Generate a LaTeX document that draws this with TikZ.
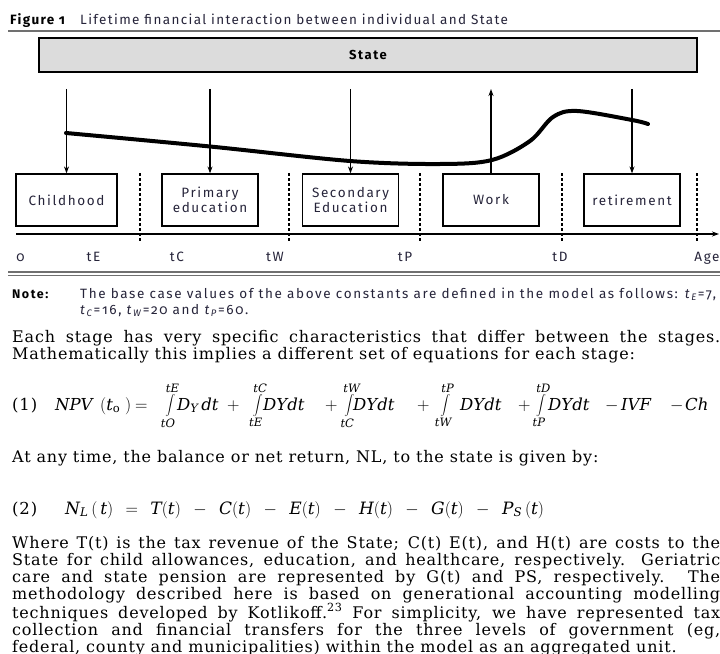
\documentclass[tikz,border=0pt]{standalone}
\usepackage{fontspec}
\setmainfont{DejaVu Serif}[LetterSpace=5]
\newfontfamily\figfont{Fira Sans}[Numbers=OldStyle, LetterSpace=12]
\newfontfamily\capfont{Fira Sans}[Numbers=OldStyle, LetterSpace=10]
\newfontfamily\notefont{Fira Sans}[Numbers=OldStyle, LetterSpace=12]
\usetikzlibrary{arrows.meta}
\definecolor{statefill}{HTML}{DCDCDC}
\definecolor{rulegray}{HTML}{707070}
\definecolor{ink}{HTML}{26243A}

\tikzset{
    stagebox/.style={draw, line width=1.2bp, minimum width=96bp, minimum height=52bp,
        align=center, text=ink, font=\figfont\fontsize{13.5bp}{14.5bp}\selectfont, inner sep=2bp},
    flow/.style={line width=1.2bp, -{Stealth[length=7bp, width=5bp]}},
    border/.style={dash pattern=on 3bp off 2bp, line width=1.2bp},
    agelabel/.style={anchor=base, inner sep=0pt, text=ink, font=\figfont\fontsize{13.5bp}{14bp}\selectfont},
    bodytext/.style={anchor=base west, inner sep=0pt, text width=708bp, align=justify,
        font=\fontsize{16bp}{17bp}\selectfont},
    plain/.style={anchor=base west, inner sep=0pt},
    eqone/.style={plain, font=\fontsize{16.5bp}{17bp}\selectfont},
}

\begin{document}
\begin{tikzpicture}[x=1bp, y=-1bp]
    \useasboundingbox (0,0) rectangle (720,654);

    \node[plain, font=\capfont\bfseries\fontsize{13.5bp}{14bp}\selectfont] (fignum) at (10,24.5) {Figure 1};
    \node[plain, text=ink, font=\capfont\fontsize{13.5bp}{14bp}\selectfont] (caption) at (80,24.5)
        {Lifetime financial interaction between individual and State};
    \draw[rulegray, line width=1.5bp] (8,31) -- (720,31);

    \node[draw, fill=statefill, line width=1.5bp, minimum width=658bp, minimum height=34bp,
        font=\figfont\bfseries\fontsize{13bp}{14bp}\selectfont] (state) at (368,55) {State};
    \coordinate (top) at (0,89);

    \node[stagebox, minimum width=101bp] (child) at (66.5,200) {Childhood};
    \node[stagebox] (primary) at (210,200) {Primary\\education};
    \node[stagebox] (secondary) at (350.5,200) {Secondary\\Education};
    \node[stagebox] (work) at (491,200) {Work};
    \node[stagebox] (retire) at (632,200) {retirement};

    \draw[flow] (child.north |- top) -- (child.north);
    \draw[flow] (primary.north |- top) -- (primary.north);
    \draw[flow] (secondary.north |- top) -- (secondary.north);
    \draw[flow] (work.north) -- (work.north |- top);
    \draw[flow] (retire.north |- top) -- (retire.north);

    \draw[line width=4bp, line cap=round] plot[smooth, tension=0.55] coordinates
        {(66,133) (210,146.5) (350,161) (440,164) (492,160) (530,141) (553,117) (577,111) (632,120) (648,124)};

    \foreach \x in {140,289,420,562,697}
        \draw[border] (\x,173) -- (\x,243);
    \draw[line width=1.1bp, -{Stealth[length=7bp, width=5bp]}] (16,234) -- (719,234);
    \foreach \t/\x in {0/20.5, tE/93.5, tC/177, tW/275, tP/405, tD/560, Age/707}
        \node[agelabel] (lbl\x) at (\x,261) {\t};

    \draw[rulegray, line width=1.3bp] (8,272) -- (720,272);
    \draw[rulegray, line width=1.3bp] (8,275.5) -- (720,275.5);

    \node[plain, font=\notefont\bfseries\fontsize{12.5bp}{13bp}\selectfont] (notelabel) at (12,298) {Note:};
    \node[plain, text=ink, font=\notefont\fontsize{13.5bp}{14bp}\selectfont] (note) at (80,298)
        {The base case values of the above constants are defined in the model as follows: \textit{t}\textsubscript{\textit{E}}=7,};
    \node[plain, text=ink, font=\notefont\fontsize{13.5bp}{14bp}\selectfont] (notetwo) at (80,314)
        {\textit{t}\textsubscript{\textit{C}}=16, \textit{t}\textsubscript{\textit{W}}=20 and \textit{t}\textsubscript{\textit{P}}=60.};

    \node[bodytext] (stages) at (12,342.5)
        {Each stage has very specific characteristics that differ between the stages.\linebreak
        Mathematically this implies a different set of equations for each stage:};

    \node[eqone] (numone) at (12,410) {(1)};
    \foreach \x/\m [count=\i] in {55/{\mathit{NPV}}, 100/{(\mathit{t}_{\mathrm{o}}\;)}, 135/{=},
        163/{\displaystyle\int\limits_{\mathit{tO}}^{\mathit{tE}}}, 177/{\mathit{D}_{\mathit{Y}}\,\mathit{dt}}, 227/{+},
        251/{\displaystyle\int\limits_{\mathit{tE}}^{\mathit{tC}}}, 263/{\mathit{DYdt}}, 325/{+},
        341/{\displaystyle\int\limits_{\mathit{tC}}^{\mathit{tW}}}, 353/{\mathit{DYdt}}, 417/{+},
        437/{\displaystyle\int\limits_{\mathit{tW}}^{\mathit{tP}}}, 460/{\mathit{DYdt}}, 518/{+},
        534/{\displaystyle\int\limits_{\mathit{tP}}^{\mathit{tD}}}, 548/{\mathit{DYdt}}, 605/{-},
        621/{\mathit{IVF}}, 670/{-}, 685/{\mathit{Ch}}}
        \node[eqone] (npv\i) at (\x,410) {$\m$};

    \node[plain, font=\fontsize{16bp}{17bp}\selectfont] (anytime) at (12,462.5)
        {At any time, the balance or net return, NL, to the state is given by:};

    \node[eqone] (numtwo) at (12,514) {(2)};
    \node[plain, font=\fontsize{17bp}{19bp}\selectfont] (netl) at (65,514)
        {\medmuskip=13mu \thickmuskip=13mu
        $\mathit{N}_{\mathit{L}}\,(\,\mathit{t}) = \mathit{T}(\mathit{t}) - \mathit{C}(\mathit{t}) - \mathit{E}(\mathit{t}) - \mathit{H}(\mathit{t}) - \mathit{G}(\mathit{t}) - \mathit{P}_{\mathit{S}}\,(\mathit{t})$};

    \node[bodytext] (where) at (12,548)
        {Where T(t) is the tax revenue of the State; C(t) E(t), and H(t) are costs to the\linebreak
        State for child allowances, education, and healthcare, respectively. Geriatric\linebreak
        care and state pension are represented by G(t) and PS, respectively. The\linebreak
        methodology described here is based on generational accounting modelling\linebreak
        techniques developed by Kotlikoff.\textsuperscript{23} For simplicity, we have represented tax\linebreak
        collection and financial transfers for the three levels of government (eg,\linebreak
        federal, county and municipalities) within the model as an aggregated unit.};
\end{tikzpicture}
\end{document}
